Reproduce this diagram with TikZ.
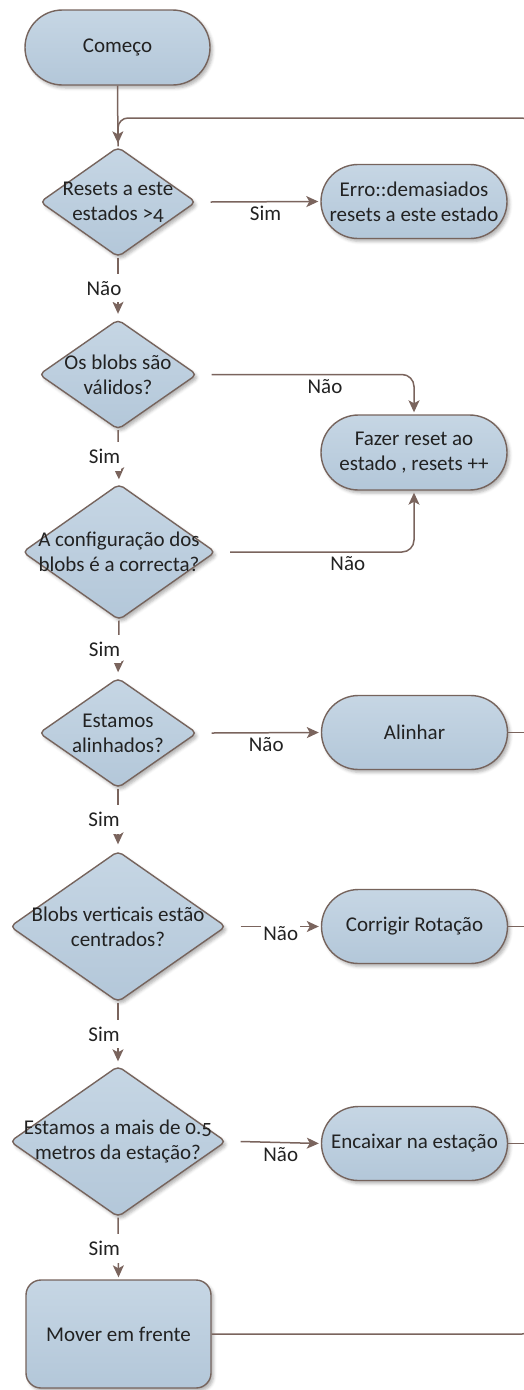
\documentclass[tikz,border=0pt]{standalone}
\usepackage{fontspec}
\setmainfont{Carlito}[Numbers=OldStyle]
\usetikzlibrary{shapes.geometric,shapes.misc,arrows.meta,shadows.blur}

\definecolor{fillt}{HTML}{C6D6E4}
\definecolor{fillb}{HTML}{B3C7D9}
\definecolor{bordc}{HTML}{76645D}
\definecolor{linec}{HTML}{7A645D}
\definecolor{txtc}{HTML}{222222}

\tikzset{
  base/.style={draw=bordc, line width=1.4pt, top color=fillt, bottom color=fillb,
    blur shadow={shadow xshift=2.5pt, shadow yshift=-3pt, shadow blur radius=3pt, shadow opacity=30},
    inner sep=0pt, text=txtc, font=\fontsize{21}{25}\selectfont, align=center},
  stadium/.style={base, rounded rectangle, minimum width=186pt, minimum height=74pt},
  procbox/.style={base, rectangle, rounded corners=15pt, minimum width=185pt, minimum height=108pt},
  decision/.style={base, diamond, rounded corners=5pt},
  txt/.style={inner sep=0pt, text=txtc, font=\fontsize{21}{25}\selectfont, align=center},
  conn/.style={draw=linec, line width=1.5pt},
  arr/.style={conn, -{Stealth[length=12pt,width=11pt,inset=3pt]}},
  hlbl/.style={inner sep=1pt, text=txtc, font=\fontsize{21}{25}\selectfont, below=3pt},
  vlbl/.style={inner xsep=1pt, inner ysep=7pt, fill=white, text=txtc,
    font=\fontsize{21}{25}\selectfont, xshift=-14pt},
}

\begin{document}
\begin{tikzpicture}[x=1pt,y=-1pt]
\useasboundingbox (0,0) rectangle (523,1390);

% main column
\node[stadium, minimum width=185pt, minimum height=75pt] (start) at (117.5,47.5) {Começo};

\node[decision, minimum width=156pt, minimum height=110pt] (d1) at (118,202) {};
\node[txt] (d1t) at (d1) {Resets a este\\estados >4};

\node[decision, minimum width=158pt, minimum height=110pt] (d2) at (118,374.5) {};
\node[txt] (d2t) at (d2) {Os blobs são\\válidos?};

\node[decision, minimum width=193pt, minimum height=136pt] (d3) at (119,552) {};
\node[txt] (d3t) at (d3) {A configuração dos\\blobs é a correcta?};

\node[decision, minimum width=158pt, minimum height=110pt] (d4) at (118,733) {};
\node[txt] (d4t) at (d4) {Estamos\\alinhados?};

\node[decision, minimum width=216pt, minimum height=151pt] (d5) at (118,926.5) {};
\node[txt] (d5t) at (d5) {Blobs verticais estão\\centrados?};

\node[decision, minimum width=216pt, minimum height=151pt] (d6) at (118,1141.5) {};
\node[txt] (d6t) at (d6) {Estamos a mais de 0.5\\metros da estação?};

\node[procbox] (mover) at (118.5,1334) {Mover em frente};

% right column
\node[stadium] (erro) at (414,201.5) {Erro::demasiados\\resets a este estado};
\node[stadium, minimum height=75pt] (fazer) at (414,452.5) {Fazer reset ao\\estado , resets ++};
\node[stadium] (alin) at (414.5,732.5) {Alinhar};
\node[stadium] (corr) at (414.5,926.5) {Corrigir Rotação};
\node[stadium] (enca) at (414.5,1143.5) {Encaixar na estação};

% return path along the right edge (its vertical run lies just past the page edge)
\coordinate (rt) at (532,118);
\coordinate (jn) at (118,118);
\draw[conn, rounded corners=10pt] (mover.east) -| (rt) -- (jn) -- (d1.north);
\draw[conn] (alin.east) -- (alin.east -| rt);
\draw[conn] (corr.east) -- (corr.east -| rt);
\draw[conn] (enca.east) -- (enca.east -| rt);

% downward flow
\draw[arr, shorten >=3pt] (start.south) -- (d1.north);
\draw[arr, shorten >=5pt] (d1.south) -- node[vlbl] {Não} (d2.north);
\draw[arr, shorten >=4pt] (d2.south) -- node[vlbl] {Sim} (d3.north);
\draw[arr, shorten >=5pt] (d3.south) -- node[vlbl] {Sim} (d4.north);
\draw[arr, shorten >=6pt] (d4.south) -- node[vlbl] {Sim} (d5.north);
\draw[arr, shorten >=4pt] (d5.south) -- node[vlbl] {Sim} (d6.north);
\draw[arr, shorten >=2pt] (d6.south) -- node[vlbl] {Sim} (mover.north);

% side branches
\draw[arr, shorten >=2pt] ([xshift=14pt]d1.east) -- node[hlbl] {Sim} (erro.west);
\draw[arr, rounded corners=12pt, shorten >=2pt] ([xshift=14pt]d2.east) -| node[hlbl, pos=.28] {Não} (fazer.north);
\draw[arr, rounded corners=12pt, shorten >=2pt] ([xshift=14pt]d3.east) -| node[hlbl, pos=.32] {Não} (fazer.south);
\draw[arr, shorten >=2pt] ([xshift=14pt]d4.east) -- node[hlbl] {Não} (alin.west);
\draw[arr, shorten >=2pt] ([xshift=14pt]d5.east) -- node[hlbl, below=-5pt, fill=white, inner xsep=2pt] {Não} (corr.west);
\draw[arr, shorten >=2pt] ([xshift=14pt]d6.east) -- node[hlbl] {Não} (enca.west);
\end{tikzpicture}
\end{document}
